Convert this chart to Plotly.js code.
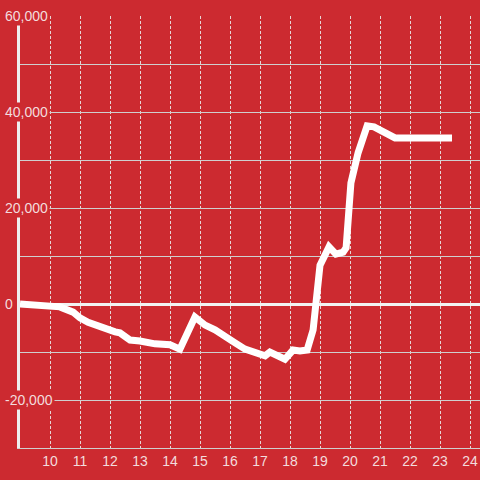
<!DOCTYPE html>
<html>
<head>
<meta charset="utf-8">
<script src="https://cdn.plot.ly/plotly-3.0.1.min.js"></script>
<style>
html,body{margin:0;padding:0;background:#cc2a30;}
#chart{width:480px;height:480px;}
</style>
</head>
<body>
<div id="chart"></div>
<script>
// Data
var hours = [9.0, 10.0, 10.33, 10.77, 11.0, 11.27, 11.5, 11.83, 12.17, 12.33, 12.67, 13.0, 13.5, 14.0, 14.33,
  14.83, 15.17, 15.5, 15.83, 16.17, 16.5, 16.93, 17.17, 17.33, 17.67, 17.83, 18.1, 18.33, 18.57, 18.77,
  19.0, 19.07, 19.3, 19.53, 19.77, 19.87, 20.03, 20.27, 20.57, 20.8, 21.5, 23.4];
var values = [0, -200, -600, -1700, -2900, -3800, -4400, -5200, -5800, -6000, -7500, -7700, -8300, -8500, -9400,
  -2700, -4400, -5400, -6900, -8100, -9400, -10400, -10800, -10000, -11000, -11500, -9600, -9800, -9600, -5400,
  8100, 9200, 11900, 10400, 10800, 11700, 25200, 31500, 37100, 36900, 34600, 34600];
var xTickVals = [10, 11, 12, 13, 14, 15, 16, 17, 18, 19, 20, 21, 22, 23, 24];
var yLabelVals = [60000, 40000, 20000, 0, -20000];
var yLabelText = ["60,000", "40,000", "20,000", "0", "-20,000"];

var bg = '#cc2a30';
var labelColor = '#f3dcdd';

var annotations = yLabelVals.map(function (v, i) {
  return {
    xref: 'paper', yref: 'y', x: -0.037, y: v,
    xanchor: 'left', yanchor: 'middle',
    text: yLabelText[i], showarrow: false,
    bgcolor: bg, borderpad: 1,
    font: {family: 'Liberation Sans, Arial, sans-serif', size: 14, color: labelColor}
  };
});

var trace = {
  x: hours, y: values, type: 'scatter', mode: 'lines',
  line: {color: '#ffffff', width: 7},
  hoverinfo: 'none'
};

var layout = {
  width: 480, height: 480,
  paper_bgcolor: bg, plot_bgcolor: bg,
  margin: {l: 20, r: 0, t: 16, b: 32},
  showlegend: false,
  xaxis: {
    range: [9, 24.333], tickmode: 'array', tickvals: xTickVals,
    showgrid: true, gridcolor: '#e6d6d6', griddash: '3px,2px', gridwidth: 1,
    zeroline: false, showline: true, linecolor: '#cfcfcf', linewidth: 1, ticks: '',
    tickfont: {family: 'Liberation Sans, Arial, sans-serif', size: 14, color: labelColor},
    fixedrange: true
  },
  yaxis: {
    range: [-30000, 60000], dtick: 10000, tick0: 0,
    showticklabels: false, ticks: '',
    showgrid: true, gridcolor: '#cfcfcf', gridwidth: 1,
    zeroline: true, zerolinecolor: '#f2f2f2', zerolinewidth: 3,
    showline: true, linecolor: '#eeeeee', linewidth: 3,
    fixedrange: true
  },
  annotations: annotations
};

Plotly.newPlot('chart', [trace], layout, {displayModeBar: false, staticPlot: true});
</script>
</body>
</html>
